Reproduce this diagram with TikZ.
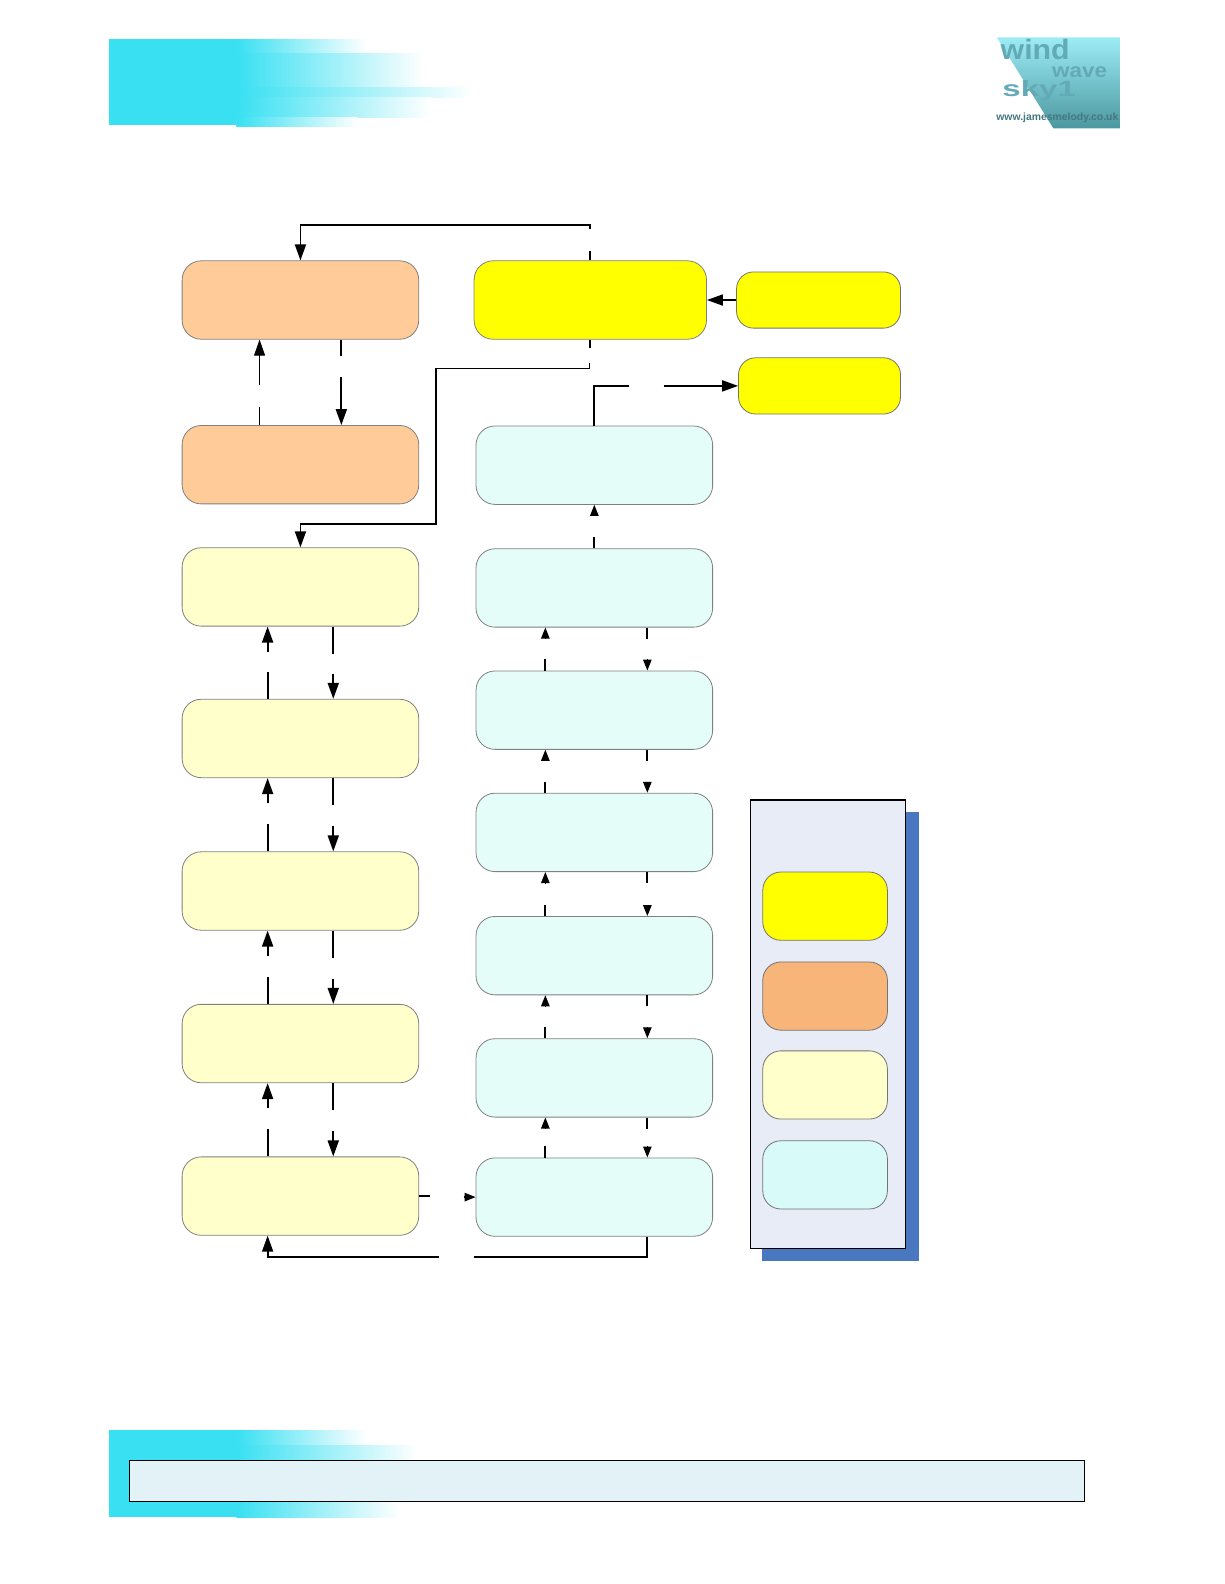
\documentclass[tikz,border=0pt]{standalone}
\usepackage{fontspec}
\setsansfont{Liberation Sans}
\usetikzlibrary{arrows.meta,calc,shadings}
\definecolor{hdrcyan}{HTML}{38E0F2}
\definecolor{peach}{HTML}{FFCC99}
\definecolor{cream}{HTML}{FFFFCC}
\definecolor{mint}{HTML}{E4FDF8}
\definecolor{sun}{HTML}{FFFF00}
\definecolor{panelblue}{HTML}{E8ECF7}
\definecolor{shadowblue}{HTML}{4A78C0}
\definecolor{keyorange}{HTML}{F7B57A}
\definecolor{keycyan}{HTML}{D8FBF9}
\definecolor{footfill}{HTML}{E2F2F7}
\definecolor{logolight}{HTML}{9CECF6}
\definecolor{logodark}{HTML}{4C98A0}
\definecolor{logotext}{HTML}{62AAB6}
\newcommand{\bandshade}[3]{\shade[left color=hdrcyan,right color=white] (234,#1) rectangle (#3,#2);}
\tikzset{
  box/.style={draw=gray,line width=0.4pt,rounded corners=9.5pt,minimum width=118.3pt,minimum height=39.2pt,inner sep=0pt},
  sidebox/.style={draw=black!55,line width=0.4pt,rounded corners=8.5pt,fill=sun,minimum height=28.1pt,inner sep=0pt},
  keybox/.style={draw=black!55,line width=0.4pt,rounded corners=9pt,minimum width=62.3pt,minimum height=34.1pt,inner sep=0pt},
  bigline/.style={line width=0.9pt,-{Triangle[length=8pt,width=5.5pt]}},
  smallline/.style={line width=0.7pt,-{Triangle[length=5.5pt,width=4.2pt]}},
  plainline/.style={line width=0.9pt},
  logolabel/.style={text=logotext,inner sep=0pt}
}
\begin{document}
\begin{tikzpicture}[x=0.50495pt,y=-0.5051pt]
\useasboundingbox (0,0) rectangle (1212,1568);
% header band
\fill[hdrcyan] (108,39) rectangle (235,124);
\bandshade{39}{53}{363}\bandshade{53}{87}{419}\bandshade{87}{97}{468}
\bandshade{97}{116}{426}\bandshade{116}{125}{354}
% logo
\shade[top color=logolight,bottom color=logodark] (987,37)--(1109,37)--(1109,127)--(1043,127)--cycle;
\node[logolabel,xscale=1.08,font=\sffamily\bfseries\fontsize{14}{14}\selectfont] (wind) at (1025,49) {wind};
\node[logolabel,xscale=1.12,font=\sffamily\bfseries\fontsize{10}{10}\selectfont] (wave) at (1069,71) {wave};
\node[logolabel,xscale=1.5,font=\sffamily\bfseries\fontsize{11}{11}\selectfont] (sky) at (1029,90) {sky1};
\node[logolabel,text=logotext!70!black,font=\sffamily\bfseries\fontsize{5.2}{5.5}\selectfont] (url) at (1047,117) {www.jamesmelody.co.uk};
% boxes, left column
\foreach \nm/\cy in {A/297,B/460} \node[box,fill=peach] (\nm) at (297.5,\cy) {};
\foreach \nm/\cy in {C/581,D/731,E/882,F/1033,G/1184} \node[box,fill=cream] (\nm) at (297.5,\cy) {};
% boxes, right column
\foreach \nm/\cy in {H/460.5,I/582,J/703,K/824,L/946,M/1067,N/1185} \node[box,fill=mint] (\nm) at (588.5,\cy) {};
\node[box,fill=sun,minimum width=116.2pt] (main) at (584.5,297) {};
\node[sidebox,minimum width=82pt] (sideA) at (810.5,297) {};
\node[sidebox,minimum width=81pt] (sideB) at (811.5,382) {};
% legend
\fill[shadowblue] (755,804) rectangle (910,1248);
\draw[fill=panelblue,line width=0.6pt] (743,792) rectangle (897,1236);
\node[keybox,fill=sun] (keyA) at (817,897) {};
\node[keybox,fill=keyorange] (keyB) at (817,986) {};
\node[keybox,fill=cream] (keyC) at (817,1074) {};
\node[keybox,fill=keycyan] (keyD) at (817,1163) {};
% connectors from the main box
\coordinate (t1) at (584,248); \coordinate (t2) at (584,227);
\coordinate (t3) at (584,222.5); \coordinate (t4) at (297.5,222.5);
\draw[plainline] ($(main.north)+(-0.5,0)$) -- (t1);
\draw[bigline] (t2) -- (t3) -- (t4) -- (A.north);
\coordinate (u1) at (584,344); \coordinate (u2) at (584,359);
\coordinate (u3) at (584,364.5); \coordinate (u4) at (432,364.5); \coordinate (u5) at (432,519); \coordinate (u6) at (297.5,519);
\draw[plainline] ($(main.south)+(-0.5,0)$) -- (u1);
\draw[line width=0.5pt] (u2) -- (u3) -- (u4);
\draw[bigline] (u4) -- (u5) -- (u6) -- (C.north);
\draw[bigline] (sideA.west) -- (main.east);
% peach pair
\coordinate (v1) at (257,403); \coordinate (v2) at (257,381);
\draw[line width=0.5pt] ($(B.north)+(-40.5,0)$) -- (v1);
\draw[line width=0.5pt,-{Triangle[length=8pt,width=5.5pt]}] (v2) -- ($(A.south)+(-40.5,0)$);
\coordinate (w1) at (338,352); \coordinate (w2) at (338,373);
\draw[plainline] ($(A.south)+(40.5,0)$) -- (w1);
\draw[bigline] (w2) -- ($(B.north)+(40.5,0)$);
% left column pairs
\foreach \hi/\lo in {C/D,D/E,E/F,F/G} {
  \draw[plainline] ($(\lo.north)+(-32.5,0)$) -- ++(0,-27);
  \draw[bigline] ($(\hi.south)+(-32.5,25)$) -- ($(\hi.south)+(-32.5,0)$);
  \draw[plainline] ($(\hi.south)+(32.5,0)$) -- ++(0,27);
  \draw[bigline] ($(\lo.north)+(32.5,-25)$) -- ($(\lo.north)+(32.5,0)$);
}
% right column pairs
\foreach \hi/\lo in {I/J,J/K,K/L,L/M,M/N} {
  \draw[plainline] ($(\lo.north)+(-48.5,0)$) -- ++(0,-11);
  \draw[smallline] ($(\hi.south)+(-48.5,11)$) -- ($(\hi.south)+(-48.5,0)$);
  \draw[plainline] ($(\hi.south)+(52.5,0)$) -- ++(0,11);
  \draw[smallline] ($(\lo.north)+(52.5,-11)$) -- ($(\lo.north)+(52.5,0)$);
}
\draw[plainline] (I.north) -- ++(0,-11);
\draw[smallline] ($(H.south)+(0,11)$) -- (H.south);
% top right exit
\coordinate (x1) at (588.5,382); \coordinate (x2) at (623,382); \coordinate (x3) at (657,382);
\draw[plainline] (H.north) -- (x1) -- (x2);
\draw[bigline] (x3) -- (sideB.west);
% bottom links
\coordinate (y1) at (426,1184); \coordinate (y2) at (459,1185);
\draw[plainline] (G.east) -- (y1);
\draw[smallline] (y2) -- (N.west);
\coordinate (z1) at (641,1244); \coordinate (z2) at (469,1244); \coordinate (z3) at (435,1244); \coordinate (z4) at (265,1244);
\draw[plainline] ($(N.south)+(52.5,0)$) -- (z1) -- (z2);
\draw[bigline] (z3) -- (z4) -- ($(G.south)+(-32.5,0)$);
% footer band
\fill[hdrcyan] (108,1416) rectangle (235,1502);
\bandshade{1416}{1431}{363}\bandshade{1431}{1487}{413}\bandshade{1487}{1502}{395}
\draw[fill=footfill,line width=0.6pt] (128,1446) rectangle (1074,1486);
\end{tikzpicture}
\end{document}
